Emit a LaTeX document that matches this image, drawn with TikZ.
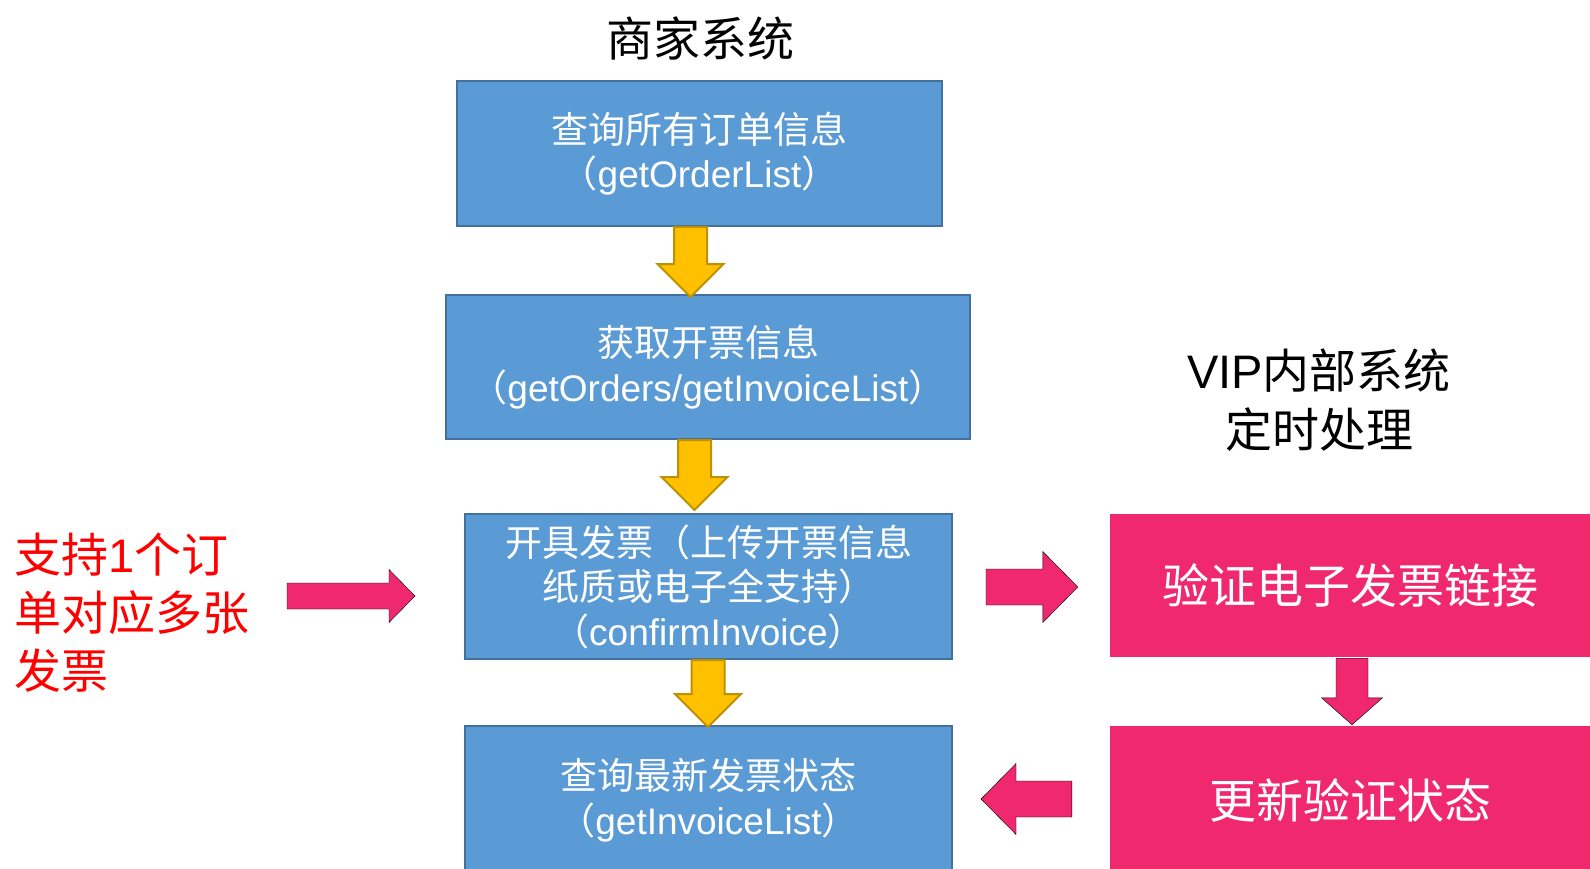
\documentclass[tikz,border=0pt]{standalone}
\usepackage{fontspec}
\setmainfont{Liberation Sans}
\newfontfamily\cjk{Noto Sans CJK SC}
\usetikzlibrary{calc}

\definecolor{boxblue}{HTML}{5B9BD5}
\definecolor{boxline}{HTML}{41719C}
\definecolor{arrowgold}{HTML}{FFC000}
\definecolor{arrowline}{HTML}{BF9000}
\definecolor{vippink}{HTML}{F0296F}

\newcommand{\zh}[1]{{\cjk #1}}
% block arrow: [style]{from}{to}{shaft half}{head half}{head length}
\newcommand{\blockarrow}[6][]{%
  \coordinate (ba-h) at ($(#3)!#6!(#2)$);
  \draw[#1] ($(#2)!#4!90:(#3)$) -- ($(ba-h)!#4!90:(#3)$) -- ($(ba-h)!#5!90:(#3)$) -- (#3)
    -- ($(ba-h)!#5!-90:(#3)$) -- ($(ba-h)!#4!-90:(#3)$) -- ($(#2)!#4!-90:(#3)$) -- cycle;
}

\begin{document}
\begin{tikzpicture}[x=1pt, y=-1pt,
    flowbox/.style={rectangle, draw=boxline, line width=2pt, fill=boxblue, text=white,
      align=center, inner sep=0pt, font=\fontsize{37pt}{44.5pt}\selectfont},
    vipbox/.style={rectangle, fill=vippink, text=white, align=center, inner sep=0pt,
      minimum width=480pt, font=\fontsize{47pt}{56pt}\selectfont},
    headline/.style={align=center, inner sep=0pt, font=\fontsize{47pt}{59pt}\selectfont},
    notetext/.style={align=left, inner sep=0pt, text=red, font=\fontsize{47pt}{58pt}\selectfont},
    goldarrow/.style={fill=arrowgold, draw=arrowline, line width=2pt},
    pinkarrow/.style={fill=vippink}]
    \clip (0,0) rectangle (1590,869);
    % Titles
    \node[headline] (merchant) at (700,38) {\zh{商家系统}};
    \node[headline] (vip) at (1319,400) {VIP\zh{内部系统}\\\zh{定时处理}};
    % Merchant system
    \node[flowbox, minimum width=485pt, minimum height=145pt] (q1) at (699.5,153.5)
        {\zh{查询所有订单信息}\\\zh{（}getOrderList\zh{）}};
    \node[flowbox, minimum width=524pt, minimum height=144pt] (q2) at (708,367)
        {\zh{获取开票信息}\\\zh{（}getOrders/getInvoiceList\zh{）}};
    \node[flowbox, minimum width=487pt, minimum height=145pt] (q3) at (708.5,586.5)
        {\zh{开具发票（上传开票信息}\\\zh{纸质或电子全支持）}\\\zh{（}confirmInvoice\zh{）}};
    \node[flowbox, minimum width=487pt, minimum height=148pt] (q4) at (708.5,800)
        {\zh{查询最新发票状态}\\\zh{（}getInvoiceList\zh{）}};
    % Note
    \node[notetext, anchor=west] (note) at (14,613)
        {\zh{支持}1\zh{个订}\\\zh{单对应多张}\\\zh{发票}};
    % VIP system
    \node[vipbox, minimum height=143pt] (v1) at (1350,585.5) {\zh{验证电子发票链接}};
    \node[vipbox, minimum height=148pt] (v2) at (1350,800) {\zh{更新验证状态}};
    % Arrows
    \foreach \a/\b/\dx/\ex/\ey in {q1/q2/-9/-17.5/3, q2/q3/-13.5/-14/-3, q3/q4/-0.5/-0.5/2} {
        \coordinate (gs) at ($(\a.south)+(\dx,0)$);
        \coordinate (gt) at ($(\b.north)+(\ex,\ey)$);
        \blockarrow[goldarrow]{gs}{gt}{16.5pt}{33pt}{33pt}
    }
    \coordinate (n1s) at ($(q3.west)+(-177,9.5)$);
    \coordinate (n1t) at ($(q3.west)+(-49,9.5)$);
    \blockarrow[pinkarrow]{n1s}{n1t}{13pt}{26.5pt}{26pt}
    \coordinate (r1s) at ($(q3.east)+(33,0.5)$);
    \coordinate (r1t) at ($(v1.west)+(-32,1.5)$);
    \blockarrow[pinkarrow]{r1s}{r1t}{18pt}{35.5pt}{35pt}
    \coordinate (d1s) at ($(v1.south)+(2,1)$);
    \coordinate (d1t) at ($(v2.north)+(2,-1)$);
    \blockarrow[pinkarrow]{d1s}{d1t}{16pt}{30.5pt}{27pt}
    \coordinate (l1s) at ($(v2.west)+(-38,-1)$);
    \coordinate (l1t) at ($(q4.east)+(28,-1)$);
    \blockarrow[pinkarrow]{l1s}{l1t}{18pt}{35.5pt}{35pt}
\end{tikzpicture}
\end{document}
